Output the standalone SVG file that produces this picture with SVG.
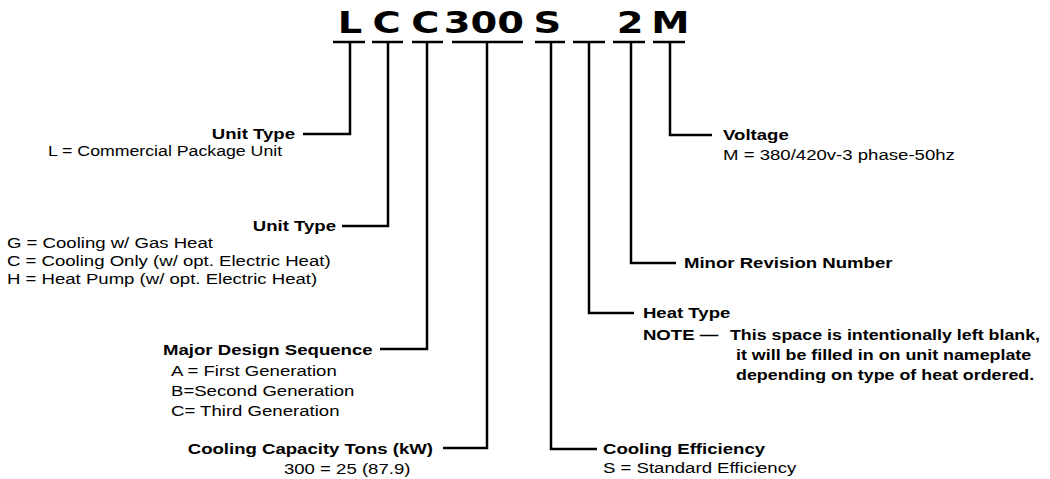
<svg xmlns="http://www.w3.org/2000/svg" width="1050" height="479" viewBox="0 0 1050 479">
<style>
.code{font-family:"DejaVu Sans",Verdana,sans-serif;font-weight:bold;font-size:31px;fill:#000;text-anchor:middle}
.t{font-family:"Liberation Sans",Arial,Helvetica,sans-serif;font-size:15px;fill:#000}
.b{font-weight:bold}
.e{text-anchor:end}
.ln{fill:none;stroke:#000;stroke-width:2.5;stroke-linejoin:miter;stroke-linecap:butt}
</style>
<rect width="1050" height="479" fill="#fff"/>
<g id="code" transform="scale(1.24 1)">
<text class="code" x="282.3" y="33">L</text>
<text class="code" x="311.7" y="33">C</text>
<text class="code" x="343.1" y="33">C</text>
<text class="code" x="390.3" y="33">300</text>
<text class="code" x="441.5" y="33">S</text>
<text class="code" x="508.1" y="33">2</text>
<text class="code" x="540.7" y="33">M</text>
</g>
<g id="connectors" class="ln">
<path d="M333 42H365M372 42H403M412 42H443M452 42H523M535 42H565M573 42H605M613 42H645M653 42H685"/>
<path d="M350 42V134H303"/>
<path d="M388 42V226H342"/>
<path d="M427 42V349H380"/>
<path d="M487 42V448H443"/>
<path d="M551 42V449H597"/>
<path d="M589 42V313H634"/>
<path d="M631 42V263H676"/>
<path d="M670 42V135H712"/>
</g>
<g id="unit-type-1">
<text class="t b e" transform="scale(1.24 1)" x="237.9" y="139.5">Unit Type</text>
<text class="t" transform="scale(1.182 1)" x="40.6" y="156">L = Commercial Package Unit</text>
</g>
<g id="unit-type-2" transform="scale(1.24 1)">
<text class="t b e" x="271" y="231.5">Unit Type</text>
<text class="t" x="5.6" y="248">G = Cooling w/ Gas Heat</text>
<text class="t" x="5.6" y="266">C = Cooling Only (w/ opt. Electric Heat)</text>
<text class="t" x="5.6" y="284">H = Heat Pump (w/ opt. Electric Heat)</text>
</g>
<g id="major-design" transform="scale(1.24 1)">
<text class="t b" x="131.5" y="355">Major Design Sequence</text>
<text class="t" x="137.9" y="376">A = First Generation</text>
<text class="t" x="137.9" y="396">B=Second Generation</text>
<text class="t" x="137.9" y="416">C= Third Generation</text>
</g>
<g id="cooling-capacity" transform="scale(1.24 1)">
<text class="t b e" x="349.2" y="454">Cooling Capacity Tons (kW)</text>
<text class="t" x="229" y="474">300 = 25 (87.9)</text>
</g>
<g id="cooling-efficiency" transform="scale(1.24 1)">
<text class="t b" x="486.3" y="454">Cooling Efficiency</text>
<text class="t" x="486.3" y="473">S = Standard Efficiency</text>
</g>
<g id="heat-type">
<text class="t b" transform="scale(1.24 1)" x="518.5" y="318.5">Heat Type</text>
<text class="t b" transform="scale(1.24 1)" x="518.5" y="340">NOTE —</text>
<text class="t b" transform="scale(1.19 1)" x="613.4" y="340">This space is intentionally left blank,</text>
<text class="t b" transform="scale(1.19 1)" x="618.5" y="360">it will be filled in on unit nameplate</text>
<text class="t b" transform="scale(1.19 1)" x="618.5" y="380">depending on type of heat ordered.</text>
</g>
<g id="minor-revision" transform="scale(1.24 1)">
<text class="t b" x="551.6" y="268.5">Minor Revision Number</text>
</g>
<g id="voltage" transform="scale(1.24 1)">
<text class="t b" x="583.1" y="140.5">Voltage</text>
<text class="t" x="583.1" y="160">M = 380/420v-3 phase-50hz</text>
</g>
</svg>
